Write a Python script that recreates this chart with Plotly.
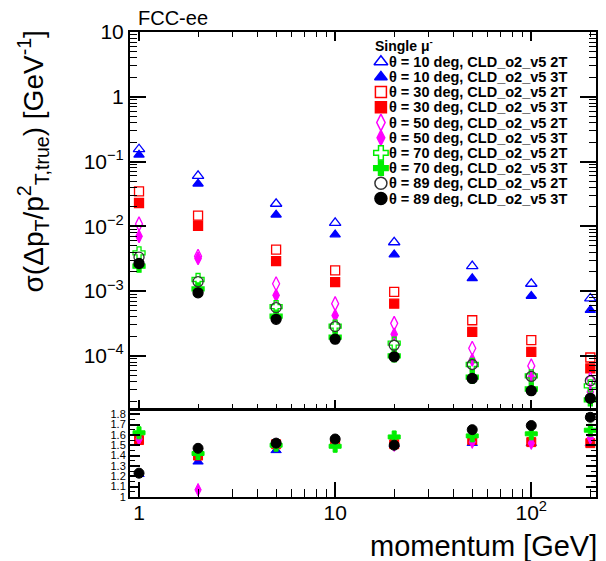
import plotly.graph_objects as go

# ---------------- data ----------------
momentum = [1, 2, 5, 10, 20, 50, 100, 200]

theta10_2T = [0.155, 0.060, 0.0223, 0.0113, 0.00568, 0.00243, 0.0013, 0.00077]
theta10_3T = [0.127, 0.0454, 0.0151, 0.00745, 0.00367, 0.00157, 0.00084, 0.00051]
theta30_2T = [0.0346, 0.0146, 0.00438, 0.00209, 0.00097, 0.000355, 0.000175, 0.0000944]
theta30_3T = [0.0229, 0.0102, 0.0029, 0.00138, 0.00064, 0.000234, 0.000115, 0.000064]
theta50_2T = [0.0109, 0.00345, 0.0013, 0.00064, 0.000318, 0.000131, 0.0000701, 0.0000436]
theta50_3T = [0.0070, 0.0032, 0.00086, 0.00042, 0.000216, 0.0000867, 0.0000467, 0.0000277]
theta70_2T = [0.0039, 0.00151, 0.000575, 0.000289, 0.000157, 0.0000736, 0.0000492, 0.0000345]
theta70_3T = [0.00243, 0.00108, 0.00041, 0.000195, 0.0001, 0.0000469, 0.0000308, 0.000021]
theta89_2T = [0.00334, 0.0014, 0.000556, 0.000283, 0.000146, 0.0000736, 0.0000482, 0.0000412]
theta89_3T = [0.00267, 0.00094, 0.000367, 0.000181, 0.0000966, 0.0000449, 0.000029, 0.0000221]

ratio10 = [1.22, 1.34, 1.45, 1.50, 1.51, 1.52, 1.52, 1.52]
ratio30 = [1.55, 1.40, 1.51, 1.52, 1.51, 1.55, 1.53, 1.52]
ratio50 = [1.56, 1.07, 1.51, 1.51, 1.50, 1.53, 1.52, 1.57]
ratio70 = [1.62, 1.42, 1.50, 1.49, 1.58, 1.59, 1.61, 1.645]
ratio89 = [1.23, 1.47, 1.52, 1.56, 1.50, 1.65, 1.69, 1.77]

labels = [
    "θ = 10 deg, CLD_o2_v5 2T", "θ = 10 deg, CLD_o2_v5 3T",
    "θ = 30 deg, CLD_o2_v5 2T", "θ = 30 deg, CLD_o2_v5 3T",
    "θ = 50 deg, CLD_o2_v5 2T", "θ = 50 deg, CLD_o2_v5 3T",
    "θ = 70 deg, CLD_o2_v5 2T", "θ = 70 deg, CLD_o2_v5 3T",
    "θ = 89 deg, CLD_o2_v5 2T", "θ = 89 deg, CLD_o2_v5 3T",
]
series = [theta10_2T, theta10_3T, theta30_2T, theta30_3T, theta50_2T,
          theta50_3T, theta70_2T, theta70_3T, theta89_2T, theta89_3T]
ratios = [ratio10, ratio30, ratio50, ratio70, ratio89]

y_tickvals = [1e-4, 1e-3, 1e-2, 1e-1, 1, 10]
y_ticktext = ["10<sup>−4</sup>", "10<sup>−3</sup>", "10<sup>−2</sup>", "10<sup>−1</sup>", "1", "10"]
x_tickvals = [1, 10, 100]
x_ticktext = ["1", "10", "10<sup>2</sup>"]

# ---------------- styles ----------------
BLUE, RED, MAG, GRN, BLK = "#0000ff", "#ff0000", "#ff00ff", "#00ee00", "#000000"
styles = [
    ("triangle-up-open", BLUE, 10), ("triangle-up", BLUE, 9),
    ("square-open", RED, 9), ("square", RED, 9),
    ("diamond-tall-open", MAG, 10), ("diamond-tall", MAG, 9),
    ("cross-open", GRN, 10), ("cross", GRN, 10),
    ("circle-open", "#333333", 10), ("circle", BLK, 10),
]
legend_sizes = [12, 11, 11, 11, 12, 11, 12, 12, 12, 12]
ratio_styles = [styles[1], styles[3], styles[5], styles[7], styles[9]]

FONT = "Liberation Sans, Arial, Helvetica, sans-serif"

fig = go.Figure()

for s, (sym, col, sz) in zip(series, styles):
    fig.add_trace(go.Scatter(
        x=momentum, y=s, mode="markers", xaxis="x", yaxis="y",
        marker=dict(symbol=sym, color=col, size=sz, line=dict(width=1.3, color=col)),
        showlegend=False, cliponaxis=False))

for r, (sym, col, sz) in zip(ratios, ratio_styles):
    fig.add_trace(go.Scatter(
        x=momentum, y=r, mode="markers", xaxis="x2", yaxis="y2",
        marker=dict(symbol=sym, color=col, size=sz, line=dict(width=1, color=col)),
        showlegend=False, cliponaxis=False))

# ---------------- custom legend (overlay axes) ----------------
W_PLOT, LEFT = 468.0, 130.0
MAIN_TOP, MAIN_BOT = 32.0, 409.0
row_y_px = [61.7 + i * 15.2 for i in range(len(labels))]
row_y = [(MAIN_BOT - yp) / (MAIN_BOT - MAIN_TOP) for yp in row_y_px]
mk_x = (382 - LEFT) / W_PLOT
tx_x = (388 - LEFT) / W_PLOT
for i, (sym, col, sz) in enumerate(styles):
    fig.add_trace(go.Scatter(
        x=[mk_x], y=[row_y[i]], mode="markers", xaxis="x3", yaxis="y3",
        marker=dict(symbol=sym, color=col, size=legend_sizes[i], line=dict(width=1.5, color=col)),
        showlegend=False, hoverinfo="skip"))

annotations = []
for i, lab in enumerate(labels):
    annotations.append(dict(
        x=tx_x, y=row_y[i], xref="x3", yref="y3", text="<b>" + lab + "</b>",
        showarrow=False, xanchor="left", yanchor="middle",
        font=dict(family=FONT, size=14.5, color="black")))
annotations.append(dict(
    x=(374 - LEFT) / W_PLOT, y=(MAIN_BOT - 45) / (MAIN_BOT - MAIN_TOP), xref="x3", yref="y3",
    text="<b>Single μ<sup>-</sup></b>", showarrow=False, xanchor="left", yanchor="middle",
    font=dict(family=FONT, size=14, color="black")))

PLOT_H = 465.0
BOTTOM = 497.0
annotations.append(dict(
    x=(136 - LEFT) / W_PLOT, y=(BOTTOM - 18) / PLOT_H, xref="paper", yref="paper",
    text="FCC-ee", showarrow=False, xanchor="left", yanchor="middle",
    font=dict(family=FONT, size=20, color="black")))
annotations.append(dict(
    x=(601 - LEFT) / W_PLOT, y=(BOTTOM - 546) / PLOT_H, xref="paper", yref="paper",
    text="momentum [GeV]", showarrow=False, xanchor="right", yanchor="middle",
    font=dict(family=FONT, size=29, color="black")))
annotations.append(dict(
    x=(33 - LEFT) / W_PLOT, y=(BOTTOM - 28) / PLOT_H, xref="paper", yref="paper",
    text="σ(Δp<sub>T</sub>/p<sup>2</sup><sub>T,true</sub>) [GeV<sup>-1</sup>]",
    showarrow=False, xanchor="center", yanchor="top", textangle=-90,
    font=dict(family=FONT, size=28, color="black")))

# minor tick positions
x_minor = [k * 10 ** d for d in range(0, 3) for k in range(2, 10) if k * 10 ** d <= 220]
y_minor = [k * 10 ** d for d in range(-5, 1) for k in range(2, 10)]

xr = [-0.046, 2.33]
main_dom = [(BOTTOM - MAIN_BOT) / PLOT_H, 1.0]
ratio_dom = [0.0, (BOTTOM - 410) / PLOT_H]

common_x = dict(type="log", range=xr, showgrid=False, zeroline=False,
                showline=True, linecolor="black", linewidth=2,
                ticks="inside", tickcolor="black", tickwidth=1.5,
                tickmode="array", tickvals=x_tickvals)

fig.update_layout(
    width=606, height=561,
    margin=dict(l=130, r=8, t=32, b=64),
    paper_bgcolor="white", plot_bgcolor="white",
    font=dict(family=FONT, color="black"),
    showlegend=False,
    xaxis=dict(common_x, anchor="y", mirror="allticks", ticklen=9, showticklabels=False,
               minor=dict(ticks="inside", ticklen=5, tickcolor="black", tickwidth=1.2,
                          tickmode="array", tickvals=x_minor, showgrid=False)),
    yaxis=dict(type="log", range=[-4.82, 1], domain=main_dom, anchor="x",
               showgrid=False, zeroline=False, showline=True, linecolor="black",
               linewidth=2, mirror="allticks", ticks="inside", ticklen=16,
               tickcolor="black", tickwidth=1.5,
               tickmode="array", tickvals=y_tickvals, ticktext=y_ticktext,
               tickfont=dict(family=FONT, size=21, color="black"),
               minor=dict(ticks="inside", ticklen=7, tickcolor="black", tickwidth=1.2,
                          tickmode="array", tickvals=y_minor, showgrid=False)),
    xaxis2=dict(common_x, anchor="y2", mirror=True, ticklen=15, matches="x",
                ticktext=x_ticktext, ticklabelstandoff=-4,
                tickfont=dict(family=FONT, size=21, color="black"),
                minor=dict(ticks="inside", ticklen=8, tickcolor="black", tickwidth=1.2,
                           tickmode="array", tickvals=x_minor, showgrid=False)),
    yaxis2=dict(range=[1, 1.84], domain=ratio_dom, anchor="x2",
                showgrid=False, zeroline=False, showline=True, linecolor="black",
                linewidth=2, mirror="allticks", ticks="inside", ticklen=10,
                tickcolor="black", tickwidth=1.5, dtick=0.1, tick0=1,
                tickfont=dict(family=FONT, size=11, color="black"),
                minor=dict(ticks="inside", ticklen=5, tickcolor="black", tickwidth=1,
                           dtick=0.05, showgrid=False)),
    xaxis3=dict(range=[0, 1], overlaying="x", anchor="y3", visible=False),
    yaxis3=dict(range=[0, 1], overlaying="y", anchor="x3", visible=False),
    annotations=annotations,
)

fig.write_html("out.html")
